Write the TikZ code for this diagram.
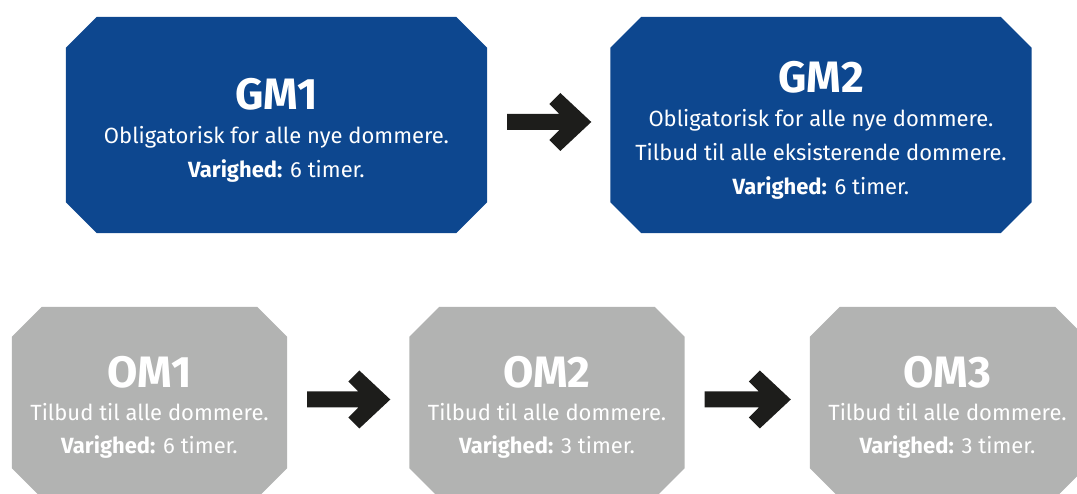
\documentclass[tikz,border=0pt]{standalone}
\usepackage{fontspec}
\setmainfont{Fira Sans}
\usetikzlibrary{backgrounds}
\definecolor{gmblue}{HTML}{0D478F}
\definecolor{omgray}{HTML}{B2B3B2}
\definecolor{arrowblack}{HTML}{1D1D1B}
\newcommand\modtitle[1]{{\fontsize{44}{44}\selectfont\bfseries\rule{0pt}{41pt}#1}}
\newcommand\octfill[3]{%
    \fill[#2] ([xshift=#3]#1.north west) -- ([xshift=-#3]#1.north east) -- ([yshift=-#3]#1.north east)
        -- ([yshift=#3]#1.south east) -- ([xshift=-#3]#1.south east) -- ([xshift=#3]#1.south west)
        -- ([yshift=#3]#1.south west) -- ([yshift=-#3]#1.north west) -- cycle;}
\newcommand\bigarrow[2]{%
    \fill[arrowblack] ([xshift=-19pt,yshift=3pt]#2.west) -- ++(-31,29) -- ++(-11,-11) -- ++(10,-10)
        -- ([xshift=20pt,yshift=11pt]#1.east) -- ++(0,-16) -- ([xshift=-51pt,yshift=-5pt]#2.west)
        -- ++(-10,-10) -- ++(11,-11) -- cycle;}
\begin{document}
\begin{tikzpicture}[x=1pt,y=1pt]
    \useasboundingbox (0,0) rectangle (1077,494);
    \begin{scope}[every node/.style={rectangle,inner sep=0pt,text=white,align=center,
            minimum width=421pt,minimum height=216pt,font=\fontsize{22}{34}\selectfont}]
        \node (gm1) at (276.5,369) {\modtitle{GM1}\\Obligatorisk for alle nye dommere.\\\textbf{Varighed:} 6 timer.};
        \node (gm2) at (821,369) {\modtitle{GM2}\\Obligatorisk for alle nye dommere.\\Tilbud til alle eksisterende dommere.\\\textbf{Varighed:} 6 timer.};
    \end{scope}
    \begin{scope}[every node/.style={rectangle,inner sep=0pt,text=white,align=center,
            minimum width=275pt,minimum height=191pt,font=\fontsize{22}{33}\selectfont}]
        \node (om1) at (149.5,91.5) {\modtitle{OM1}\\Tilbud til alle dommere.\\\textbf{Varighed:} 6 timer.};
        \node (om2) at (547,91.5) {\modtitle{OM2}\\Tilbud til alle dommere.\\\textbf{Varighed:} 3 timer.};
        \node (om3) at (947.5,91.5) {\modtitle{OM3}\\Tilbud til alle dommere.\\\textbf{Varighed:} 3 timer.};
    \end{scope}
    \begin{scope}[on background layer]
        \octfill{gm1}{gmblue}{31pt}
        \octfill{gm2}{gmblue}{31pt}
        \octfill{om1}{omgray}{30pt}
        \octfill{om2}{omgray}{30pt}
        \octfill{om3}{omgray}{30pt}
    \end{scope}
    \bigarrow{gm1}{gm2}
    \bigarrow{om1}{om2}
    \bigarrow{om2}{om3}
\end{tikzpicture}
\end{document}
